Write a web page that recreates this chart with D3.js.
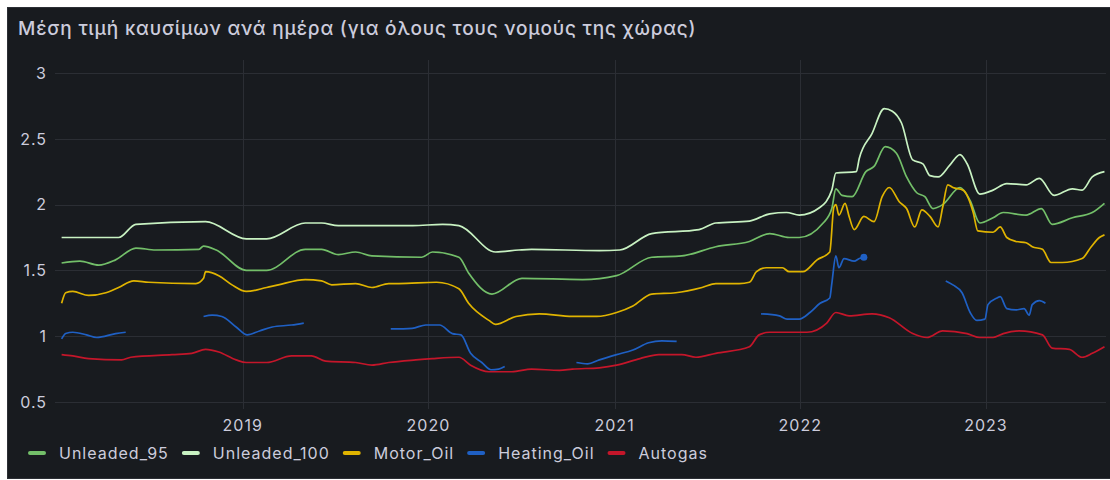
<!DOCTYPE html>
<html>
<head>
    <meta charset="utf-8">
    <title>Fuel prices</title>
    <script src="https://d3js.org/d3.v7.min.js"></script>
    <style>
        body {
            margin: 0;
            padding: 0;
            background: #ffffff;
            overflow: hidden;
            font-family: Inter, "Noto Sans", sans-serif;
        }
        .tick-label { fill: #ccccdc; font-size: 16px; letter-spacing: 1px; }
        .legend-label { fill: #ccccdc; font-size: 16px; letter-spacing: 1px; }
        .grid { stroke: #2b2e34; stroke-width: 1; }
    </style>
</head>
<body>
    <div id="chart"></div>
    <script>
        const title = 'Μέση τιμή καυσίμων ανά ημέρα (για όλους τους νομούς της χώρας)';

        const seriesNames = ['Unleaded_95', 'Unleaded_100', 'Motor_Oil', 'Heating_Oil', 'Autogas'];
        const seriesColors = ['#73bf69', '#c8f2c2', '#e0b400', '#1f60c4', '#c4162a'];

        const yTicks = [0.5, 1, 1.5, 2, 2.5, 3];
        const xTicks = ['2019-01-01', '2020-01-01', '2021-01-01', '2022-01-01', '2023-01-01'];

        const unleaded95 = [
            ['2018-01-10', 1.556], ['2018-02-15', 1.57], ['2018-03-24', 1.54], ['2018-04-26', 1.58],
            ['2018-06-05', 1.67], ['2018-07-14', 1.655], ['2018-10-07', 1.66], ['2018-10-16', 1.685],
            ['2018-11-10', 1.655], ['2019-01-08', 1.50], ['2019-02-17', 1.50], ['2019-05-04', 1.66],
            ['2019-06-05', 1.66], ['2019-07-08', 1.62], ['2019-08-11', 1.64], ['2019-09-12', 1.61],
            ['2019-12-19', 1.60], ['2020-01-09', 1.64], ['2020-03-01', 1.60], ['2020-03-20', 1.48],
            ['2020-05-05', 1.32], ['2020-07-03', 1.44], ['2020-10-30', 1.43], ['2021-01-05', 1.46],
            ['2021-03-15', 1.60], ['2021-05-13', 1.61], ['2021-07-19', 1.68], ['2021-09-23', 1.72],
            ['2021-11-02', 1.78], ['2021-12-10', 1.75], ['2021-12-30', 1.75], ['2022-02-15', 1.86],
            ['2022-03-04', 1.97], ['2022-03-12', 2.12], ['2022-03-24', 2.07], ['2022-04-13', 2.06],
            ['2022-05-10', 2.25], ['2022-05-26', 2.29], ['2022-06-17', 2.44], ['2022-07-09', 2.39],
            ['2022-07-29', 2.21], ['2022-08-18', 2.09], ['2022-09-03', 2.06], ['2022-09-19', 1.97],
            ['2022-10-08', 2.00], ['2022-11-11', 2.13], ['2022-12-01', 2.03], ['2022-12-20', 1.86],
            ['2023-01-15', 1.90], ['2023-02-04', 1.94], ['2023-03-21', 1.92], ['2023-04-20', 1.97],
            ['2023-05-11', 1.85], ['2023-06-20', 1.90], ['2023-07-29', 1.94], ['2023-08-22', 2.01]
        ];

        const unleaded100 = [
            ['2018-01-10', 1.75], ['2018-05-02', 1.75], ['2018-06-05', 1.85], ['2018-10-20', 1.87],
            ['2019-01-08', 1.74], ['2019-02-17', 1.74], ['2019-05-04', 1.86], ['2019-06-05', 1.86],
            ['2019-07-08', 1.84], ['2019-12-01', 1.84], ['2020-01-29', 1.85], ['2020-03-01', 1.84],
            ['2020-05-12', 1.64], ['2020-06-27', 1.655], ['2020-07-22', 1.66], ['2020-12-02', 1.65],
            ['2021-01-11', 1.655], ['2021-03-15', 1.78], ['2021-06-16', 1.81], ['2021-07-19', 1.86],
            ['2021-09-23', 1.875], ['2021-11-02', 1.93], ['2021-12-05', 1.94], ['2021-12-30', 1.92],
            ['2022-02-09', 1.98], ['2022-03-04', 2.11], ['2022-03-12', 2.24], ['2022-04-21', 2.25],
            ['2022-04-27', 2.35], ['2022-05-22', 2.54], ['2022-06-15', 2.73], ['2022-07-01', 2.71],
            ['2022-07-19', 2.62], ['2022-08-10', 2.34], ['2022-08-30', 2.31], ['2022-09-13', 2.22],
            ['2022-09-29', 2.21], ['2022-10-22', 2.30], ['2022-11-11', 2.38], ['2022-11-25', 2.31],
            ['2022-12-20', 2.08], ['2023-01-15', 2.11], ['2023-02-11', 2.16], ['2023-03-21', 2.15],
            ['2023-04-16', 2.20], ['2023-05-15', 2.07], ['2023-06-20', 2.12], ['2023-07-09', 2.11],
            ['2023-07-29', 2.21], ['2023-08-22', 2.25]
        ];

        const motorOil = [
            ['2018-01-10', 1.25], ['2018-01-18', 1.33], ['2018-02-01', 1.34], ['2018-03-04', 1.31],
            ['2018-04-07', 1.33], ['2018-05-02', 1.37], ['2018-06-01', 1.42], ['2018-06-30', 1.41],
            ['2018-10-01', 1.40], ['2018-10-16', 1.44], ['2018-10-20', 1.49], ['2018-11-15', 1.46],
            ['2018-12-11', 1.39], ['2019-01-08', 1.34], ['2019-02-17', 1.37], ['2019-03-12', 1.39],
            ['2019-05-04', 1.43], ['2019-06-05', 1.42], ['2019-06-25', 1.39], ['2019-08-11', 1.40],
            ['2019-09-12', 1.37], ['2019-10-15', 1.40], ['2019-11-04', 1.40], ['2020-01-17', 1.41],
            ['2020-03-01', 1.36], ['2020-03-20', 1.25], ['2020-04-29', 1.12], ['2020-05-12', 1.09],
            ['2020-06-21', 1.15], ['2020-08-06', 1.17], ['2020-10-10', 1.15], ['2020-11-27', 1.15],
            ['2021-01-05', 1.18], ['2021-02-06', 1.23], ['2021-03-15', 1.32], ['2021-05-01', 1.33],
            ['2021-06-22', 1.37], ['2021-07-19', 1.40], ['2021-09-03', 1.40], ['2021-09-23', 1.41],
            ['2021-10-07', 1.49], ['2021-10-26', 1.52], ['2021-11-27', 1.52], ['2021-12-10', 1.49],
            ['2022-01-06', 1.49], ['2022-02-03', 1.58], ['2022-02-28', 1.64], ['2022-03-08', 1.98],
            ['2022-03-12', 2.00], ['2022-03-18', 1.92], ['2022-03-30', 2.01], ['2022-04-07', 1.91],
            ['2022-04-17', 1.81], ['2022-05-06', 1.91], ['2022-05-26', 1.87], ['2022-06-11', 2.06],
            ['2022-06-25', 2.13], ['2022-07-15', 2.02], ['2022-07-29', 1.97], ['2022-08-14', 1.83],
            ['2022-08-28', 1.96], ['2022-09-13', 1.91], ['2022-09-29', 1.83], ['2022-10-08', 1.98],
            ['2022-10-18', 2.15], ['2022-10-28', 2.13], ['2022-11-17', 2.11], ['2022-12-07', 1.94],
            ['2022-12-16', 1.80], ['2023-01-15', 1.79], ['2023-01-29', 1.83], ['2023-02-11', 1.75],
            ['2023-03-01', 1.72], ['2023-03-21', 1.71], ['2023-04-02', 1.68], ['2023-04-22', 1.66],
            ['2023-05-09', 1.56], ['2023-05-31', 1.56], ['2023-07-09', 1.59], ['2023-07-27', 1.68],
            ['2023-08-12', 1.75], ['2023-08-22', 1.77]
        ];

        // null values are gaps in the series
        const heatingOil = [
            ['2018-01-10', 0.98], ['2018-01-18', 1.02], ['2018-02-01', 1.03], ['2018-02-28', 1.01],
            ['2018-03-20', 0.99], ['2018-04-26', 1.02], ['2018-05-16', 1.03], ['2018-06-01', null],
            ['2018-10-16', 1.15], ['2018-11-02', 1.16], ['2018-11-21', 1.15], ['2018-12-19', 1.07],
            ['2019-01-10', 1.01], ['2019-02-03', 1.04], ['2019-02-28', 1.07], ['2019-04-07', 1.085],
            ['2019-05-01', 1.10], ['2019-06-01', null],
            ['2019-10-19', 1.055], ['2019-11-30', 1.06], ['2019-12-27', 1.085], ['2020-01-23', 1.085],
            ['2020-02-17', 1.02], ['2020-03-05', 1.01], ['2020-03-24', 0.87], ['2020-04-15', 0.80],
            ['2020-05-03', 0.745], ['2020-05-18', 0.75], ['2020-05-30', 0.77], ['2020-06-15', null],
            ['2020-10-18', 0.80], ['2020-11-09', 0.79], ['2020-12-02', 0.82], ['2021-01-05', 0.86],
            ['2021-02-06', 0.895], ['2021-03-09', 0.95], ['2021-04-04', 0.965], ['2021-05-03', 0.96],
            ['2021-06-01', null],
            ['2021-10-16', 1.17], ['2021-11-21', 1.155], ['2021-12-06', 1.13], ['2021-12-30', 1.13],
            ['2022-01-20', 1.18], ['2022-02-09', 1.25], ['2022-02-28', 1.29], ['2022-03-04', 1.40],
            ['2022-03-12', 1.61], ['2022-03-18', 1.52], ['2022-03-28', 1.59], ['2022-04-17', 1.57],
            ['2022-04-27', 1.59], ['2022-05-06', 1.60], ['2022-06-01', null],
            ['2022-10-14', 1.42], ['2022-10-28', 1.39], ['2022-11-15', 1.33], ['2022-12-01', 1.18],
            ['2022-12-14', 1.12], ['2022-12-30', 1.13], ['2023-01-05', 1.24], ['2023-01-23', 1.29],
            ['2023-01-29', 1.30], ['2023-02-11', 1.21], ['2023-03-01', 1.20], ['2023-03-17', 1.21],
            ['2023-03-27', 1.16], ['2023-04-02', 1.24], ['2023-04-16', 1.27], ['2023-04-28', 1.25]
        ];
        const heatingOilPoint = ['2022-05-06', 1.60];

        const autogas = [
            ['2018-01-10', 0.86], ['2018-02-01', 0.85], ['2018-03-04', 0.83], ['2018-05-08', 0.82],
            ['2018-05-26', 0.84], ['2018-08-15', 0.86], ['2018-09-23', 0.87], ['2018-10-20', 0.90],
            ['2018-11-15', 0.88], ['2018-12-19', 0.82], ['2019-01-08', 0.80], ['2019-02-17', 0.80],
            ['2019-04-07', 0.85], ['2019-05-16', 0.85], ['2019-06-13', 0.81], ['2019-08-11', 0.80],
            ['2019-09-12', 0.78], ['2019-10-15', 0.80], ['2019-12-07', 0.82], ['2020-01-09', 0.83],
            ['2020-03-01', 0.84], ['2020-03-24', 0.78], ['2020-04-29', 0.73], ['2020-06-13', 0.73],
            ['2020-07-22', 0.75], ['2020-09-15', 0.74], ['2020-10-10', 0.75], ['2020-12-02', 0.76],
            ['2021-01-05', 0.78], ['2021-02-20', 0.83], ['2021-03-29', 0.86], ['2021-05-13', 0.86],
            ['2021-06-10', 0.84], ['2021-07-19', 0.87], ['2021-09-23', 0.92], ['2021-10-12', 1.01],
            ['2021-11-02', 1.03], ['2022-01-14', 1.03], ['2022-02-22', 1.10], ['2022-03-12', 1.18],
            ['2022-04-07', 1.155], ['2022-05-22', 1.17], ['2022-06-25', 1.14], ['2022-08-10', 1.02],
            ['2022-09-07', 0.99], ['2022-10-08', 1.04], ['2022-11-25', 1.02], ['2022-12-20', 0.99],
            ['2023-01-15', 0.99], ['2023-02-04', 1.02], ['2023-03-07', 1.04], ['2023-04-22', 1.01],
            ['2023-05-11', 0.91], ['2023-06-14', 0.90], ['2023-07-09', 0.84], ['2023-07-29', 0.87],
            ['2023-08-22', 0.92]
        ];

        const seriesData = [unleaded95, unleaded100, motorOil, heatingOil, autogas];

        const width = 1110;
        const height = 480;
        const plotLeft = 55, plotRight = 1106, plotTop = 60, plotBottom = 409;

        const parse = d3.timeParse('%Y-%m-%d');

        const svg = d3.select('#chart')
            .append('svg')
            .attr('width', width)
            .attr('height', height);

        // Panel
        svg.append('rect')
            .attr('x', 7.5).attr('y', 7.5)
            .attr('width', width).attr('height', 471)
            .attr('fill', '#181b1f')
            .attr('stroke', '#2c2f35');

        svg.append('text')
            .attr('x', 18).attr('y', 35)
            .attr('fill', '#ccccdc')
            .attr('font-size', 19)
            .attr('font-weight', 500)
            .attr('letter-spacing', 0.8)
            .text(title);

        const x = d3.scaleTime()
            .domain([parse('2017-12-28'), parse('2023-08-25')])
            .range([plotLeft, plotRight]);

        const y = d3.scaleLinear()
            .domain([0.5, 3])
            .range([402, 73]);

        // Grid
        svg.append('g')
            .selectAll('line')
            .data(yTicks)
            .join('line')
            .attr('class', 'grid')
            .attr('x1', plotLeft).attr('x2', plotRight)
            .attr('y1', d => Math.round(y(d)) + 0.5)
            .attr('y2', d => Math.round(y(d)) + 0.5);

        svg.append('g')
            .selectAll('line')
            .data(xTicks)
            .join('line')
            .attr('class', 'grid')
            .attr('y1', plotTop).attr('y2', plotBottom)
            .attr('x1', d => Math.round(x(parse(d))) + 0.5)
            .attr('x2', d => Math.round(x(parse(d))) + 0.5);

        // Axis labels
        svg.append('g')
            .selectAll('text')
            .data(yTicks)
            .join('text')
            .attr('class', 'tick-label')
            .attr('x', 47)
            .attr('y', d => y(d))
            .attr('dy', '0.36em')
            .attr('text-anchor', 'end')
            .text(d => d);

        svg.append('g')
            .selectAll('text')
            .data(xTicks)
            .join('text')
            .attr('class', 'tick-label')
            .attr('x', d => x(parse(d)))
            .attr('y', 425)
            .attr('dy', '0.36em')
            .attr('text-anchor', 'middle')
            .text(d => d3.timeFormat('%Y')(parse(d)));

        // Lines
        const line = d3.line()
            .defined(d => d[1] != null)
            .x(d => x(parse(d[0])))
            .y(d => y(d[1]))
            .curve(d3.curveMonotoneX);

        svg.append('g')
            .selectAll('path')
            .data(seriesData)
            .join('path')
            .attr('fill', 'none')
            .attr('stroke', (d, i) => seriesColors[i])
            .attr('stroke-width', 1.7)
            .attr('stroke-linejoin', 'round')
            .attr('d', line);

        svg.append('circle')
            .attr('cx', x(parse(heatingOilPoint[0])))
            .attr('cy', y(heatingOilPoint[1]))
            .attr('r', 3.5)
            .attr('fill', seriesColors[3]);

        // Legend
        const legend = svg.append('g');
        let lx = 28;
        seriesNames.forEach((name, i) => {
            legend.append('rect')
                .attr('x', lx).attr('y', 451)
                .attr('width', 18).attr('height', 4)
                .attr('rx', 2)
                .attr('fill', seriesColors[i]);
            const t = legend.append('text')
                .attr('class', 'legend-label')
                .attr('x', lx + 31)
                .attr('y', 453)
                .attr('dy', '0.36em')
                .text(name);
            lx += 31 + t.node().getComputedTextLength() + 13;
        });
    </script>
</body>
</html>
